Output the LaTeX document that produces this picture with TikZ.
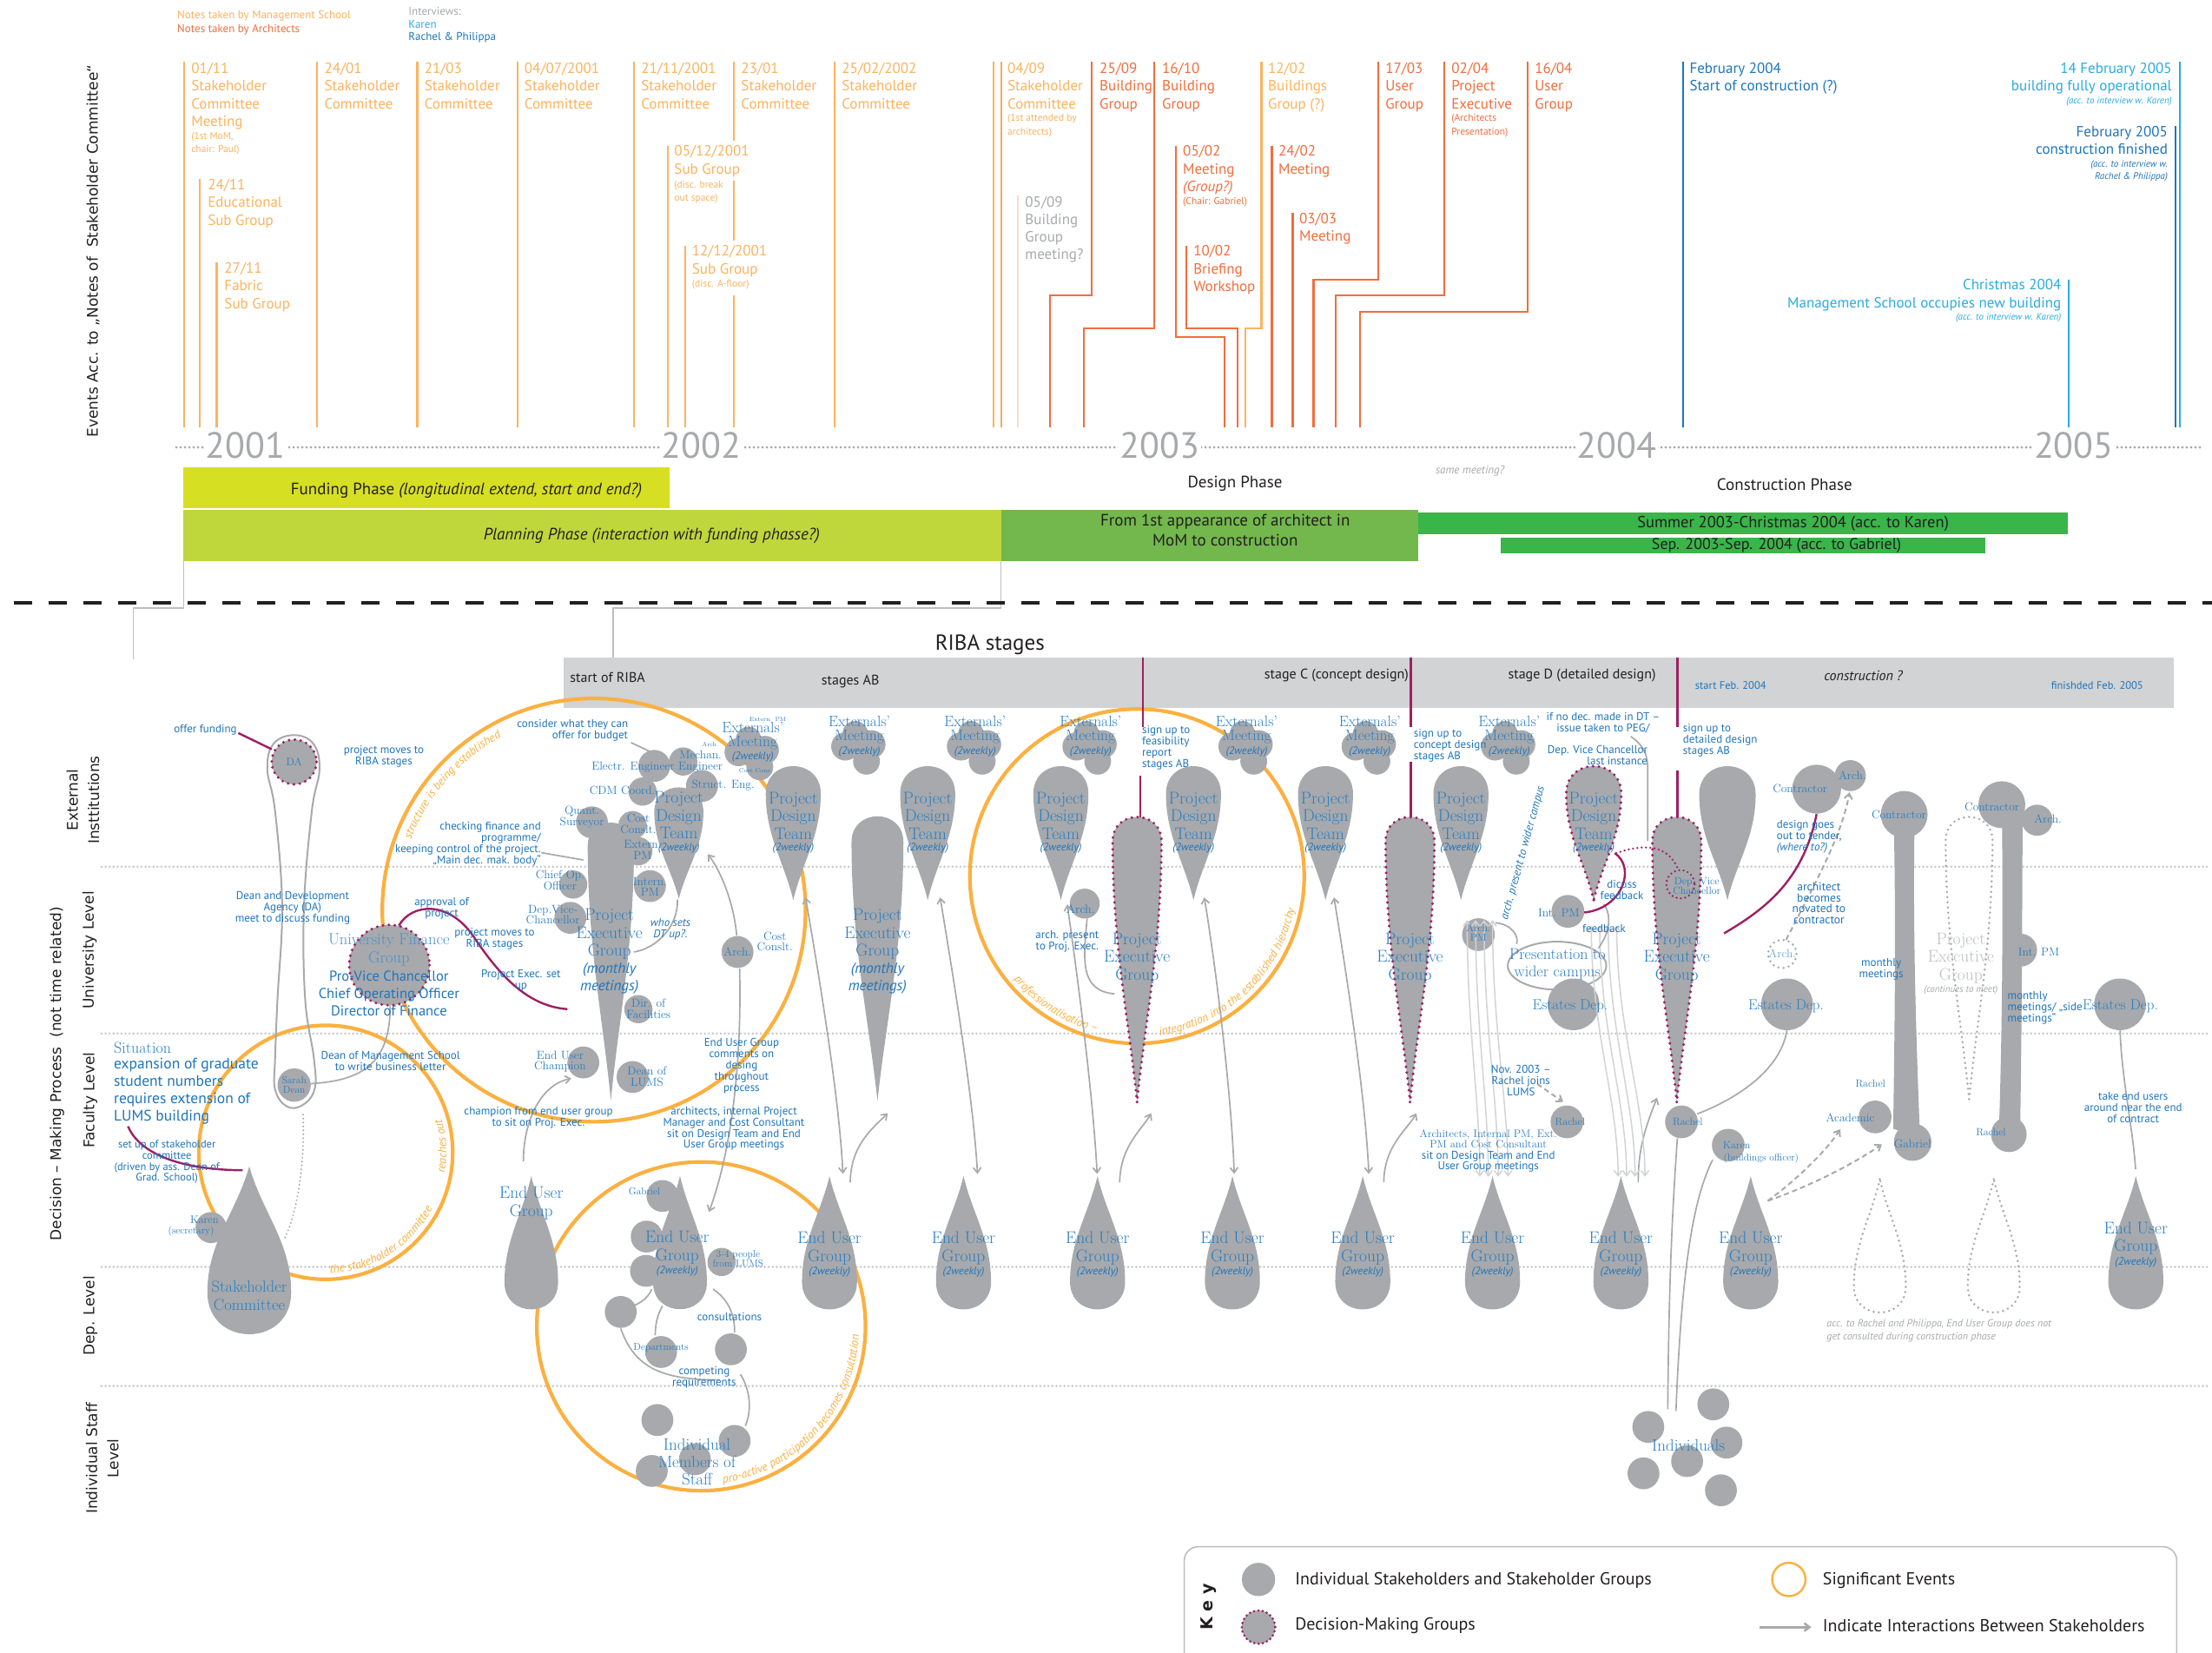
\documentclass[tikz,border=0pt]{standalone}
\usepackage{fontspec}
\usetikzlibrary{arrows.meta,decorations.text}
\newfontfamily\cond{PT Sans}
\newfontfamily\wide{DejaVu Sans}
\newcommand\fsz[2]{\fontsize{#1}{#2}\selectfont}
\newcommand\arcfont{\cond\itshape\fsz{13.5}{13.5}}

\definecolor{blobgray}{HTML}{A7A9AC}
\definecolor{lblue}{HTML}{2A7EC3}
\definecolor{ablue}{HTML}{1F75BC}
\definecolor{dblue}{HTML}{1C75BC}
\definecolor{skyblue}{HTML}{29ABE2}
\definecolor{msorange}{HTML}{FBB35E}
\definecolor{arorange}{HTML}{F26D3D}
\definecolor{evorange}{HTML}{FBB040}
\definecolor{dmred}{HTML}{9E1F63}
\definecolor{ribagray}{HTML}{D1D3D4}
\definecolor{yeargray}{HTML}{A7A9AC}
\definecolor{dotgray}{HTML}{C7C8CA}
\definecolor{fundyellow}{HTML}{D7DF23}
\definecolor{planlime}{HTML}{BFD73B}
\definecolor{desgreen}{HTML}{72B84C}
\definecolor{congreen}{HTML}{39B54A}
\definecolor{pinkline}{HTML}{FBD9CC}
\definecolor{textgray}{HTML}{A7A9AC}
\definecolor{darktext}{HTML}{231F20}
\definecolor{lightline}{HTML}{D1D3D4}
\definecolor{linegray}{HTML}{A7A9AC}
\definecolor{ghosttext}{HTML}{BCBEC0}

\tikzset{
  blob/.style={fill=blobgray},
  dm/.style={fill=blobgray, draw=dmred, line width=3.4pt, line cap=round, dash pattern=on 0pt off 6.8pt},
  dmo/.style={draw=dmred, line width=2.6pt, line cap=round, dash pattern=on 0pt off 5pt},
  ghost/.style={draw=blobgray, line width=2.8pt, line cap=round, dash pattern=on 0pt off 6pt},
  evl/.style={line width=2.2pt},
  evt/.style={font=\cond\fsz{17}{20.3}, align=left, inner sep=0pt, anchor=north west},
  evs/.style={font=\cond\fsz{11.5}{15.5}, align=left, inner sep=0pt, anchor=north west},
  yearlbl/.style={font=\cond\fsz{42}{42}, text=yeargray, fill=white, inner xsep=2pt, inner ysep=0pt},
  lab/.style={font=\rmfamily\fsz{19.5}{20.5}, text=lblue, align=center, inner sep=0pt},
  labs/.style={font=\rmfamily\fsz{13.5}{12.7}, text=lblue, align=center, inner sep=0pt},
  ann/.style={font=\cond\fsz{13}{13}, text=ablue, align=center, inner sep=0pt},
  wk/.style={font=\cond\itshape\fsz{12.5}{12.5}, text=ablue, inner sep=0pt},
  sidelbl/.style={font=\wide\fsz{17}{24.5}, text=darktext, rotate=90, align=center, inner sep=0pt},
  phase/.style={font=\cond\fsz{19}{23}, text=darktext, align=center, inner sep=0pt},
  stagelbl/.style={font=\cond\fsz{16}{16}, text=darktext, inner sep=0pt},
  conn/.style={draw=linegray, line width=1.7pt},
  lconn/.style={draw=lightline, line width=1.5pt},
  arrowend/.style={-{Straight Barb[length=6pt,width=9pt]}},
  arrowboth/.style={{Straight Barb[length=6pt,width=9pt]}-{Straight Barb[length=6pt,width=9pt]}},
  dconn/.style={draw=linegray, line width=2pt, dash pattern=on 6pt off 4pt},
  mag/.style={draw=dmred, line width=2.4pt},
  ring/.style={draw=evorange, line width=4.2pt},
  lvl/.style={draw=dotgray, line width=2.8pt, line cap=round, dash pattern=on 0pt off 4.6pt},
  keytext/.style={font=\cond\fsz{20}{20}, text=darktext, anchor=west, inner sep=0pt},
}

% drop with round top and pointed bottom: style, x, top, tip, half width
\newcommand\dropdn[5]{%
  \path[#1] (#2,#4)
    .. controls ({#2-0.32*#5},{#4-0.28*(#4-#3)}) and ({#2-#5},{#3+#5+0.4*(#4-#3-#5)}) .. ({#2-#5},{#3+#5})
    .. controls ({#2-#5},{#3-#5/3}) and ({#2+#5},{#3-#5/3}) .. ({#2+#5},{#3+#5})
    .. controls ({#2+#5},{#3+#5+0.4*(#4-#3-#5)}) and ({#2+0.32*#5},{#4-0.28*(#4-#3)}) .. cycle;}
% drop with pointed top and round bottom: style, x, tip, bottom, half width
\newcommand\dropup[5]{%
  \path[#1] (#2,#3)
    .. controls ({#2-0.32*#5},{#3+0.28*(#4-#3)}) and ({#2-#5},{#4-#5-0.4*(#4-#3-#5)}) .. ({#2-#5},{#4-#5})
    .. controls ({#2-#5},{#4+#5/3}) and ({#2+#5},{#4+#5/3}) .. ({#2+#5},{#4-#5})
    .. controls ({#2+#5},{#4-#5-0.4*(#4-#3-#5)}) and ({#2+0.32*#5},{#3+0.28*(#4-#3)}) .. cycle;}
% externals' meeting cluster: shift, name, x
\newcommand\extm[3][0]{%
  \fill[blobgray] ({#3-10},{529+(#1)}) circle (10) ({#3+8.5},{527.5+(#1)}) circle (10)
    ({#3+5},{539.5+(#1)}) circle (9.5) ({#3-3},{520+(#1)}) circle (9);
  \node[lab,font=\rmfamily\fsz{17.5}{15.6}] (#2) at (#3,{517.4+(#1)}) {Externals'\\Meeting};
  \node[wk] (#2w) at (#3,{532.6+(#1)}) {(2weekly)};}
% project design team: style, name, x
\newcommand\pdt[3][blob]{%
  \dropdn{#1}{#3}{543}{638}{19.5}
  \node[lab] (#2) at (#3,578.2) {Project\\Design\\Team};
  \node[wk] (#2w) at (#3,600.8) {(2weekly)};}
% end user group: text shift, name, x
\newcommand\eug[3][0]{%
  \dropup{blob}{#3}{833.5}{928}{19.5}
  \node[lab] (#2) at (#3,{884.6+(#1)}) {End User\\Group};
  \node[wk] (#2w) at (#3,{901.8+(#1)}) {(2weekly)};}
% decision-making project executive group: name, x
\newcommand\pegd[2]{%
  \dropdn{dm}{#2}{579}{781}{17.3}
  \node[lab] (#1) at (#2,678.9) {Project\\Executive\\Group};}

\begin{document}
\begin{tikzpicture}[x=1.6244pt,y=-1.6244pt]
\useasboundingbox (0,0) rectangle (1568,1171);
\fill[white] (0,0) rectangle (1568,1171);

% ---------- legend of the note sources
\node[font=\cond\fsz{13}{13}, text=msorange, anchor=west, inner sep=0pt] (lgms) at (125.6,11.3) {Notes taken by Management School};
\node[font=\cond\fsz{13}{13}, text=arorange, anchor=west, inner sep=0pt] (lgar) at (125.6,20.9) {Notes taken by Architects};
\node[font=\cond\fsz{13}{13}, text=textgray, anchor=west, inner sep=0pt] (lgiv) at (289.5,8.2) {Interviews:};
\node[font=\cond\fsz{13}{13}, text=skyblue, anchor=west, inner sep=0pt] (lgka) at (289.5,17.4) {Karen};
\node[font=\cond\fsz{13}{13}, text=dblue, anchor=west, inner sep=0pt] (lgrp) at (289.5,26.3) {Rachel \& Philippa};

% ---------- events from the minutes
\draw[evl,msorange] (130.5,44) -- (130.5,302.7);
\node[evt,text=msorange] (e01) at (135.5,44.5) {01/11\\Stakeholder\\Committee\\Meeting};
\node[evs,text=msorange] (e01s) at (135.5,93.5) {(1st MoM,\\chair: Paul)};
\draw[evl,msorange] (141.4,126.8) -- (141.4,302.7);
\node[evt,text=msorange] (e02) at (147.2,127) {24/11\\Educational\\Sub Group};
\draw[evl,msorange] (153.6,185.7) -- (153.6,302.7);
\node[evt,text=msorange] (e03) at (159,186) {27/11\\Fabric\\Sub Group};
\draw[evl,msorange] (224.5,44) -- (224.5,302.7);
\node[evt,text=msorange] (e04) at (229.9,44.5) {24/01\\Stakeholder\\Committee};
\draw[evl,msorange] (295.8,44) -- (295.8,302.7);
\node[evt,text=msorange] (e05) at (300.8,44.5) {21/03\\Stakeholder\\Committee};
\draw[evl,msorange] (366.7,44) -- (366.7,302.7);
\node[evt,text=msorange] (e06) at (371.7,44.5) {04/07/2001\\Stakeholder\\Committee};
\draw[evl,msorange] (449.4,44) -- (449.4,302.7);
\node[evt,text=msorange] (e07) at (454.4,44.5) {21/11/2001\\Stakeholder\\Committee};
\draw[evl,msorange] (473.3,103.6) -- (473.3,302.7);
\node[evt,text=msorange] (e08) at (477.9,103.2) {05/12/2001\\Sub Group};
\node[evs,text=msorange] (e08s) at (477.9,127.9) {(disc. break\\out space)};
\draw[evl,msorange] (485.5,174.4) -- (485.5,302.7);
\node[evt,text=msorange] (e09) at (490.5,174) {12/12/2001\\Sub Group};
\node[evs,text=msorange] (e09s) at (490.5,198.3) {(disc. A-floor)};
\draw[evl,msorange] (520.3,44) -- (520.3,99.5) (520.3,128.3) -- (520.3,170.3) (520.3,209.3) -- (520.3,302.7);
\node[evt,text=msorange] (e10) at (525.3,44.5) {23/01\\Stakeholder\\Committee};
\draw[evl,msorange] (591.7,44) -- (591.7,302.7);
\node[evt,text=msorange] (e11) at (596.6,44.5) {25/02/2002\\Stakeholder\\Committee};
\draw[evl,msorange] (704.4,44) -- (704.4,302.7);
\draw[evl,msorange!85!arorange] (709.6,44) -- (709.6,302.7);
\node[evt,text=msorange] (e12) at (714.1,44.5) {04/09\\Stakeholder\\Committee};
\node[evs,text=msorange] (e12s) at (714.1,81) {(1st attended by\\architects)};
\draw[evl,pinkline] (721.5,138.5) -- (721.5,302.7);
\node[evt,text=textgray] (e13) at (726.6,139) {05/09\\Building\\Group\\meeting?};
\draw[evl,arorange] (773.8,44) -- (773.8,209.3) -- (744.2,209.3) -- (744.2,302.7);
\node[evt,text=arorange] (e14) at (779.4,44.5) {25/09\\Building\\Group};
\draw[evl,arorange] (818.1,44) -- (818.1,232.9) -- (768.1,232.9) -- (768.1,302.7);
\node[evt,text=arorange] (e15) at (823.7,44.5) {16/10\\Building\\Group};
\draw[evl,arorange] (833.4,103.6) -- (833.4,239.1) -- (868,239.1) -- (868,302.7);
\node[evt,text=arorange] (e16) at (838.5,103.2) {05/02\\Meeting\\\textit{(Group?)}};
\node[evs,text=arorange] (e16s) at (838.5,139.8) {(Chair: Gabriel)};
\draw[evl,arorange] (840.8,174.4) -- (840.8,232.9) -- (877.1,232.9) -- (877.1,302.7);
\node[evt,text=arorange] (e17) at (845.9,174) {10/02\\Briefing\\Workshop};
\draw[evl,msorange] (894.2,44) -- (894.2,232.9) -- (882.8,232.9) -- (882.8,302.7);
\node[evt,text=msorange] (e18) at (898.8,44.5) {12/02\\Buildings\\Group (?)};
\draw[evl,arorange] (901.6,103.6) -- (901.6,302.7);
\node[evt,text=arorange] (e19) at (906.1,103.2) {24/02\\Meeting};
\draw[evl,arorange] (916.3,150.8) -- (916.3,302.7);
\node[evt,text=arorange] (e20) at (920.9,150.8) {03/03\\Meeting};
\draw[evl,arorange] (977.1,44) -- (977.1,198) -- (931.1,198) -- (931.1,302.7);
\node[evt,text=arorange] (e21) at (982,44.5) {17/03\\User\\Group};
\draw[evl,arorange] (1023.8,44) -- (1023.8,209.3) -- (947,209.3) -- (947,302.7);
\node[evt,text=arorange] (e22) at (1028.8,44.5) {02/04\\Project\\Executive};
\node[evs,text=arorange] (e22s) at (1028.8,81) {(Architects\\Presentation)};
\draw[evl,arorange] (1082.8,44) -- (1082.8,221.2) -- (964,221.2) -- (964,302.7);
\node[evt,text=arorange] (e23) at (1087.9,44.5) {16/04\\User\\Group};
\draw[evl,dblue] (1193,44) -- (1193,302.7);
\node[evt,text=dblue] (e24) at (1197.6,44.5) {February 2004\\Start of construction (?)};
\draw[evl,skyblue] (1545.2,44) -- (1545.2,302.7);
\node[evt,text=skyblue,anchor=north east,align=right] (e25) at (1539.6,44.5) {14 February 2005\\building fully operational};
\node[evs,text=skyblue,anchor=north east,align=right,font=\cond\itshape\fsz{11}{15}] (e25s) at (1539.6,68.5) {(acc. to interview w. Karen)};
\draw[evl,dblue] (1541.9,89.3) -- (1541.9,302.7);
\node[evt,text=dblue,anchor=north east,align=right] (e26) at (1536.7,89.3) {February 2005\\construction finished};
\node[evs,text=dblue,anchor=north east,align=right,font=\cond\itshape\fsz{11}{14}] (e26s) at (1536.7,113.7) {(acc. to interview w.\\Rachel \& Philippa)};
\draw[evl,skyblue] (1466.3,198) -- (1466.3,302.7);
\node[evt,text=skyblue,anchor=north east,align=right] (e27) at (1461.2,198) {Christmas 2004\\Management School occupies new building};
\node[evs,text=skyblue,anchor=north east,align=right,font=\cond\itshape\fsz{11}{15}] (e27s) at (1461.2,221.8) {(acc. to interview w. Karen)};

% ---------- time axis
\draw[draw=yeargray, line width=3.2pt, line cap=round, dash pattern=on 0pt off 5pt] (125,317) -- (1562,317);
\foreach \yr/\xx in {2001/174,2002/497,2003/822,2004/1146,2005/1470}
  \node[yearlbl] (yr\yr) at (\xx,315.5) {\yr};

% ---------- phases
\fill[fundyellow] (130.2,331.4) rectangle (474.7,360.1);
\node[phase] (funding) at (330.6,348) {Funding Phase \textit{(longitudinal extend, start and end?)}};
\fill[planlime] (130.2,361.6) rectangle (709.5,397.5);
\node[phase,font=\cond\itshape\fsz{19}{23}] (planning) at (462,380) {Planning Phase (interaction with funding phasse?)};
\fill[desgreen] (709.5,361.6) rectangle (1005.3,397.5);
\node[phase] (fromarch) at (868.5,375.5) {From 1st appearance of architect in\\MoM to construction};
\node[phase] (design) at (875.4,342.7) {Design Phase};
\node[font=\cond\itshape\fsz{13}{13}, text=textgray, inner sep=0pt] (samemeet) at (1042,334) {same meeting?};
\node[phase] (construction) at (1265,343.7) {Construction Phase};
\fill[congreen] (1005.3,363.2) rectangle (1466,378.6);
\node[phase,font=\cond\fsz{18.5}{18.5}] (karenph) at (1271,371.2) {Summer 2003-Christmas 2004 (acc. to Karen)};
\fill[congreen] (1063.8,381) rectangle (1407.5,392.4);
\node[phase,font=\cond\fsz{18}{18}] (gabrielph) at (1259.3,386.8) {Sep. 2003-Sep. 2004 (acc. to Gabriel)};

\draw[draw=ghosttext, line width=1.6pt] (130.2,397.5) -- (130.2,430.8) -- (94.4,430.8) -- (94.4,467);
\draw[draw=ghosttext, line width=1.6pt] (709.5,397.5) -- (709.5,430.8) -- (434.5,430.8) -- (434.5,466);
\draw[draw=darktext, line width=3.6pt, dash pattern=on 21pt off 19pt] (10,427.2) -- (1568,427.2);

% ---------- RIBA stages
\fill[ribagray] (399.3,466) rectangle (1541,502);
\node[font=\cond\fsz{25}{25}, text=darktext, inner sep=0pt] (ribattl) at (701.7,457.2) {RIBA stages};
\node[stagelbl, anchor=west] (rbstart) at (404,480.4) {start of RIBA};
\node[stagelbl] (rbab) at (602.8,483) {stages AB};
\node[stagelbl] (rbc) at (947.4,478.8) {stage C (concept design)};
\node[stagelbl] (rbd) at (1121.4,478.8) {stage D (detailed design)};
\node[stagelbl, font=\cond\itshape\fsz{16}{16}] (rbcon) at (1320.9,478.8) {construction ?};
\node[ann, font=\cond\fsz{12.5}{12.5}] (rbsf) at (1226.8,485.6) {start Feb. 2004};
\node[ann, font=\cond\fsz{12.5}{12.5}] (rbfin) at (1486.6,485.6) {finishded Feb. 2005};

% ---------- levels
\foreach \ly in {614.3,732.5,897.9,982.3} \draw[lvl] (72,\ly) -- (1566,\ly);
\node[sidelbl] (sideev) at (66,178) {Events Acc. to „Notes of\ \ Stakeholder Committee“};
\node[sidelbl] (sideext) at (58.8,567) {External\\Insttitutions};
\node[sidelbl] (sideuni) at (63.5,673.4) {University Level};
\node[sidelbl] (sidefac) at (64,779.8) {Faculty Level};
\node[sidelbl] (sidedec) at (40.5,761) {Decision – Making Process\ \ (not time related)};
\node[sidelbl] (sidedep) at (64,932.7) {Dep. Level};
\node[sidelbl] (sideind) at (72.5,1033.6) {Individual Staff\\Level};

% ---------- significant events
\draw[ring] (421,645) circle (150);
\draw[ring] (230.9,816.7) circle (90);
\draw[ring] (497,940) circle (116.5);
\draw[ring] (806,621) circle (118.5);
\path[decorate, decoration={text along path, text={|\arcfont|structure is being established}, text color=evorange, text align=left}] (421,645) ++(201:139) arc (201:252:139);
\path[decorate, decoration={text along path, text={|\arcfont|the stakeholder committee}, text color=evorange, text align=left}] (230.9,816.7) ++(88:85.5) arc (88:14:85.5);
\path[decorate, decoration={text along path, text={|\arcfont|reaches out}, text color=evorange, text align=left}] (230.9,816.7) ++(10:85.5) arc (10:-22:85.5);
\path[decorate, decoration={text along path, text={|\arcfont|pro-active participation becomes consultation}, text color=evorange, text align=left}] (497,940) ++(82:112) arc (82:-15:112);
\path[decorate, decoration={text along path, text={|\arcfont|professionalisation –}, text color=evorange, text align=left}] (806,621) ++(140:114) arc (140:96:114);
\path[decorate, decoration={text along path, text={|\arcfont|integration into the established hierarchy}, text color=evorange, text align=left}] (806,621) ++(82:114) arc (82:-6:114);

% ---------- magenta sign-up lines
\draw[mag] (810.2,466) -- (810.2,515) (808.3,550) -- (808.3,580);
\draw[mag] (1000,466) -- (1000,515) (1000,540) -- (1000,580);
\draw[mag] (1189,466) -- (1189,515) (1189,546) -- (1189,580);

% ---------- funding loop DA / Sarah Dean
\draw[conn, line width=2pt] plot[smooth cycle, tension=0.65] coordinates {(208.5,521) (222,527) (226.5,545) (221,575) (215.5,642) (216.3,708) (222.5,750) (223,772) (214,783.5) (203,784) (195,772) (195,750) (196.7,708) (200,642) (195,575) (189.5,545) (194,527)};
\path[dm] (208.5,540) circle (15.9);
\fill[blobgray] (208.5,769) circle (11.8);
\path[dm] (276,684) circle (28.5);

% ---------- stakeholder committee and early groups
\dropup{blob}{176.7}{826.6}{945.6}{29.7}
\fill[blobgray] (149.6,870) circle (11);
\dropup{blob}{376.6}{833.5}{928}{19}

% ---------- first project executive cluster
\dropdn{blob}{433}{583}{780}{16.4}
\fill[blobgray] (419.6,582.8) circle (11.3) (448.4,584.8) circle (10) (452.5,603.3) circle (10)
  (460.7,628) circle (11.3) (406.3,626.9) circle (10) (404.3,650.5) circle (11.3)
  (452.5,715.2) circle (10) (448.4,763.3) circle (11.3) (413.5,753) circle (11.3)
  (463.8,542.8) circle (11.3) (484.3,539.7) circle (10) (497.6,557) circle (11.3) (455.5,561) circle (10);
\dropdn{blob}{481.2}{558}{637}{17.4}
\fill[blobgray] (522.8,674.7) circle (11.3);

% ---------- end user group with departments and staff
\dropup{blob}{482}{833.3}{927.9}{19.1}
\fill[blobgray] (469.6,847.6) circle (11.3) (458.4,876.4) circle (11.3) (457.9,900.7) circle (11.3)
  (511.5,894.4) circle (10) (440,929.8) circle (11.3) (468.6,958.2) circle (11.3) (518.1,956.3) circle (11.3)
  (466,1006.4) circle (11.3) (520.7,1021.2) circle (11.3) (492.6,1034.2) circle (11.3) (462,1042.5) circle (11.3);

% ---------- externals' meetings
\extm[4]{ext1}{533.6}
\extm{ext2}{609.2}
\extm{ext3}{691.2}
\extm{ext4}{773.1}
\extm{ext5}{883.7}
\extm{ext6}{971}
\extm{ext7}{1069.8}
\node[labs, font=\rmfamily\fsz{7}{7}] (ext1pm) at (544.2,509.8) {Extern. PM};
\node[labs, font=\rmfamily\fsz{7}{7}] (ext1ar) at (503.5,527.8) {Arch.};
\node[labs, font=\rmfamily\fsz{7}{7}] (ext1cc) at (535.6,546.2) {Cost Cons.};

% ---------- design teams, executive groups, end user groups
\pdt{pdt1}{562.3}
\pdt{pdt2}{657.6}
\pdt{pdt3}{752}
\pdt{pdt4}{846}
\pdt{pdt5}{939.6}
\pdt{pdt6}{1035.6}
\pdt[dm]{pdt7}{1129.7}
\dropdn{blob}{1224.5}{543}{638}{20}
\dropdn{blob}{622}{578.5}{780.5}{18.4}
\node[lab] (peg1) at (622,662.2) {Project\\Executive\\Group};
\node[wk, font=\cond\itshape\fsz{17}{20}, align=center] (peg1m) at (622,693.4) {(monthly\\meetings)};
\fill[blobgray] (768.9,640.4) circle (10.6);
\pegd{peg2}{806}
\pegd{peg3}{999.5}
\pegd{peg4}{1188.6}
\eug{eug1}{588}
\eug{eug2}{683}
\eug{eug3}{778}
\eug{eug4}{873.6}
\eug{eug5}{966}
\eug{eug6}{1058}
\eug{eug7}{1149}
\eug{eug8}{1241}
\eug[-7]{eug9}{1514}

% ---------- design stage actors
\fill[blobgray] (1048,662.4) circle (11.6) (1111.4,645.9) circle (11.6)
  (1115.4,711.8) circle (18.3) (1266.7,711.8) circle (18.3) (1502.8,711.8) circle (18.3)
  (1110.7,795.1) circle (11.6) (1191.9,795.1) circle (11.6) (1225.1,811.6) circle (11.6)
  (1287.7,559.3) circle (17.3) (1311.6,549.7) circle (11);
\draw[conn, line width=2pt] (1103.7,684.4) ellipse [x radius=34.9, y radius=17];
\draw[dmo] (1191.2,626.7) circle (10);

% ---------- construction stage actors
\fill[blobgray] (1349.8,577.2) circle (16.6);
\fill[blobgray] (1342.5,585) .. controls (1344,660) and (1343,730) .. (1342,800) -- (1361,806) .. controls (1358,730) and (1356,660) .. (1357.1,585) -- cycle;
\fill[blobgray] (1329.2,791.6) circle (11.6) (1355.8,809.4) circle (13.3);
\fill[blobgray] (1419,570.3) circle (16.6) (1444,581.3) circle (11);
\fill[blobgray] (1419.1,578) .. controls (1420,660) and (1419,740) .. (1417,800) -- (1432,800) .. controls (1433,740) and (1433.5,660) .. (1433.7,578) -- cycle;
\fill[blobgray] (1424,803.9) circle (12.6) (1432.4,673.4) circle (11.6);
\dropdn{ghost}{1395.8}{579}{779}{16.6}
\dropup{ghost}{1332.5}{835.7}{930.2}{18.4}
\dropup{ghost}{1413.3}{835.7}{930.2}{18.4}
\draw[ghost] (1263.4,676.1) circle (10);
\fill[blobgray] (1214.5,995.3) circle (11.3) (1168.4,1011.3) circle (11.3) (1223.8,1022.4) circle (11.3)
  (1195.9,1035.5) circle (11.3) (1165,1044.2) circle (11.3) (1219.9,1056.2) circle (11.3);

% ---------- interactions
\draw[mag] (168.9,519.5) -- (192.6,531);
\draw[mag] (282.7,656) .. controls (292,640) and (318,638) .. (335.6,663.6) .. controls (352,688) and (372,713) .. (402.2,715.2);
\draw[mag] (90.7,798.3) .. controls (98,815) and (122,829) .. (172,829.4);
\draw[conn] (220.3,768) .. controls (255,766) and (277,755) .. (276.5,712.5);
\draw[ghost, line width=2.2pt, dash pattern=on 0pt off 4.5pt] (214.9,790) .. controls (216,830) and (210,860) .. (202,877.3);
\draw[conn] (447.3,526.3) -- (461.7,533.1);
\draw[conn] (383.7,604.3) -- (413.5,609.5);
\draw[conn] (449.4,674.7) .. controls (466,672) and (481,656) .. (480.2,637.5);
\draw[conn,arrowend] (522.2,663) .. controls (520,638) and (510,616) .. (501.7,605.4);
\draw[conn,arrowend] (524.3,686.5) .. controls (526,760) and (517,820) .. (502.5,859);
\draw[conn,arrowend] (371,823) .. controls (371,792) and (385,768) .. (405,764.4);
\draw[conn] (505.4,913.6) .. controls (515,920) and (521,930) .. (520.7,944.5);
\draw[conn] (469.6,925.6) .. controls (466,932) and (464.5,938) .. (464.5,946.5);
\draw[conn] (462,913.7) .. controls (460,918) and (457,922) .. (450,925);
\draw[conn] (440,941.5) .. controls (450,970) and (470,978) .. (510.4,978);
\draw[conn] (524.8,974) .. controls (532,985) and (533,1000) .. (528.3,1010.6);

\draw[conn,arrowboth] (571,636) .. controls (582,700) and (595,780) .. (597.5,832);
\draw[conn,arrowend] (602.7,838) .. controls (603,812) and (618,800) .. (629.3,789);
\draw[conn,arrowboth] (666.4,636) .. controls (677,700) and (690,780) .. (692.9,832);
\draw[conn,arrowboth] (756.5,641) .. controls (765,700) and (775,780) .. (777.7,832);
\draw[conn,arrowend] (793.7,838) .. controls (794,812) and (810,800) .. (816,789);
\draw[conn,arrowboth] (853.7,636) .. controls (864,700) and (873,780) .. (874.9,832);
\draw[conn,arrowboth] (945.6,636) .. controls (956,700) and (968,780) .. (970.3,832);
\draw[conn,arrowend] (980.9,838) .. controls (981,812) and (998,800) .. (1004,789);
\draw[conn,arrowend] (1161.3,838) .. controls (1161,812) and (1168,795) .. (1174.6,778);
\foreach \a/\b in {1040/1049,1046/1055,1052/1062,1058/1069}
  \draw[lconn,arrowboth] (\a,652) .. controls (\a,730) and (\b,780) .. (\b,834);
\foreach \a/\b in {1128/1147,1134/1153,1140/1159,1146/1166}
  \draw[lconn,arrowboth] (\a,656) .. controls (\a,730) and (\b,780) .. (\b,834);
\draw[conn] (770.6,651) .. controls (768,680) and (765,702) .. (790,704.4);
\draw[conn] (1060,654) .. controls (1072,655) and (1077,664) .. (1075,669);
\draw[conn] (1133,672) .. controls (1142,660) and (1142,648) .. (1137,641);
\draw[conn] (1156,522) .. controls (1165,528) and (1168,535) .. (1168,545) -- (1168,596);
\draw[conn] (1266.7,730) .. controls (1262,760) and (1228,780) .. (1203,789.5);
\draw[conn] (1502.8,730) .. controls (1504,765) and (1512,800) .. (1513.8,828.6);
\draw[conn] (1182.2,998.8) .. controls (1183,900) and (1186,850) .. (1189,806.7);
\draw[conn] (1188,1000) .. controls (1192,900) and (1200,850) .. (1214,822);
\draw[dconn,arrowend] (1089.7,768.2) -- (1108,781);
\draw[dconn,arrowend] (1266.1,666) .. controls (1290,620) and (1306,590) .. (1311,561.5);
\draw[dconn,arrowend] (1253.1,851.1) .. controls (1275,835) and (1295,815) .. (1304.5,800.3);
\draw[dconn,arrowend] (1253.1,851.1) .. controls (1290,838) and (1318,822) .. (1334,811);
\draw[mag] (1123,646.7) .. controls (1150,644) and (1160,615) .. (1144.6,604.6);
\draw[dmo] (1145.7,604.6) .. controls (1165,598) and (1182,598) .. (1189.5,616);
\draw[mag] (1222.1,661.5) .. controls (1250,645) and (1278,625) .. (1287.7,577);

% ---------- labels: funding and university level
\node[labs, font=\rmfamily\fsz{12.5}{12}] (da) at (208.5,540) {DA};
\node[labs, font=\rmfamily\fsz{11.5}{10.5}] (sarah) at (208.5,769) {Sarah\\Dean};
\node[ann] (offer) at (145.6,517) {offer funding};
\node[ann] (moves1) at (272.1,535.8) {project moves to\\RIBA stages};
\node[ann] (deanda) at (207.4,643.5) {Dean and Development\\Agency (DA)\\meet to discuss funding};
\node[lab, font=\rmfamily\fsz{18.5}{21.4}, text=lblue!85!white] (ufg) at (275.7,673.1) {University Finance\\Group};
\node[ann, font=\cond\fsz{16.5}{20}] (ufgm) at (275.7,704.2) {Pro-Vice Chancellor\\Chief Operating Officer\\Director of Finance};
\node[ann] (approval) at (313.1,643.7) {approval of\\project};
\node[ann] (moves2) at (350.6,665.2) {project moves to\\RIBA stages};
\node[ann] (execset) at (369.3,695.1) {Project Exec. set\\up};
\node[ann] (deanms) at (276.8,751.9) {Dean of Management School\\to write business letter};
\node[ann, anchor=east, align=right] (budget) at (445.3,517.4) {consider what they can\\offer for budget};
\node[ann, anchor=east, align=right] (checking) at (383.5,598) {checking finance and\\programme/\\keeping control of the project.\\„Main dec. mak. body“};
\node[lab, font=\rmfamily\fsz{18}{17}, anchor=west] (situation) at (80.6,742.8) {Situation};
\node[ann, font=\cond\fsz{17.5}{20.3}, anchor=north west, align=left] (situtext) at (80.6,749.5) {expansion of graduate\\student numbers\\requires extension of\\LUMS building};
\node[ann, font=\cond\fsz{12.5}{12.6}] (setup) at (118.3,823.6) {set up of stakeholder\\committee\\(driven by ass. Dean of\\Grad. School)};
\node[lab, font=\rmfamily\fsz{18.5}{21}] (stc) at (176.7,918.5) {Stakeholder\\Committee};
\node[labs, font=\rmfamily\fsz{12.5}{13}] (karen1) at (144.9,864.3) {Karen};
\node[labs, font=\rmfamily\fsz{11.5}{11}] (karen1s) at (135.5,872.5) {(secretary)};
\node[lab] (eug0) at (376.6,852.7) {End User\\Group};
\node[ann] (champ) at (381.7,792.4) {champion from end user group\\to sit on Proj. Exec.};

% ---------- labels: first executive cluster
\node[labs] (electr) at (448.7,543.8) {Electr. Engineer};
\node[labs] (mechan) at (496.6,539.5) {Mechan.\\Engineer};
\node[labs] (cdm) at (441.2,560.2) {CDM Coord.};
\node[labs] (struct) at (512.6,556.7) {Struct. Eng.};
\node[labs] (quant) at (412.5,579.2) {Quant.\\Surveyor};
\node[labs] (costc) at (452.5,583.8) {Cost\\Conslt.};
\node[labs] (extpm) at (455.5,602.2) {Extern.\\PM};
\node[lab] (pdt0) at (481.2,578) {Project\\Design\\Team};
\node[wk] (pdt0w) at (481.2,600.8) {(2weekly)};
\node[labs] (chiefop) at (397,623.8) {Chief Op.\\Officer};
\node[labs] (intpm) at (460.7,628.4) {Intern.\\PM};
\node[labs] (depvc) at (391.9,648.2) {Dep.Vice-\\Chancellor};
\node[lab] (peg0) at (432,662.2) {Project\\Executive\\Group};
\node[wk, font=\cond\itshape\fsz{17}{20}, align=center] (peg0m) at (432,693.6) {(monthly\\meetings)};
\node[labs] (dirfac) at (459.7,714.9) {Dir. of\\Facilities};
\node[labs] (deanl) at (458.6,762.8) {Dean of\\LUMS};
\node[labs] (euchamp) at (397,752.4) {End User\\Champion};
\node[ann, font=\cond\itshape\fsz{13}{13}] (whosets) at (475.3,658.5) {who sets\\DT up?.};
\node[labs] (arch1) at (522.8,674.7) {Arch.};
\node[labs] (costc2) at (549.3,667.2) {Cost\\Conslt.};
\node[ann] (euc) at (525.7,755.2) {End User Group\\comments on\\desing\\throughout\\process};
\node[ann, font=\cond\fsz{13}{12.7}] (archint) at (520.2,800.1) {architects, internal Project\\Manager and Cost Consultant\\sit on Design Team and End\\User Group meetings};

% ---------- labels: departments and staff
\node[labs, font=\rmfamily\fsz{11.5}{11}] (gabriel1) at (456.8,844.4) {Gabriel};
\node[lab] (eugc) at (480.1,884.2) {End User\\Group};
\node[wk] (eugcw) at (480.1,900.8) {(2weekly)};
\node[labs, font=\rmfamily\fsz{11.5}{11.5}] (lums34) at (523.2,892) {3-4 people\\from LUMS};
\node[ann] (consult) at (517.1,933.3) {consultations};
\node[labs, font=\rmfamily\fsz{11.5}{11}] (depts) at (468.6,955) {Departments};
\node[ann] (competing) at (499.2,976.1) {competing\\requirements};
\node[lab, font=\rmfamily\fsz{19}{20.2}] (indmem) at (494.1,1036) {Individual\\Members of\\Staff};

% ---------- labels: design stages
\node[ann, anchor=north west, align=left] (sufeas) at (809.5,514.3) {sign up to\\feasibility\\report\\stages AB};
\node[ann, anchor=north west, align=left] (suconc) at (1002.1,516.5) {sign up to\\concept design\\stages AB};
\node[ann, anchor=north west, align=left] (sudet) at (1192.9,513) {sign up to\\detailed design\\stages AB};
\node[labs, font=\rmfamily\fsz{14}{13}] (arch2) at (766,644) {Arch.};
\node[ann] (archpres) at (756.5,667) {arch. present\\to Proj. Exec.};
\node[ann] (nodec) at (1136.4,512.4) {if no dec. made in DT –\\issue taken to PEG/};
\node[ann, anchor=east, align=right] (lastinst) at (1168,535) {Dep. Vice Chancellor\\last instance};
\node[labs, font=\rmfamily\fsz{12}{11.5}] (archpm) at (1048,661) {Arch.\\PM};
\node[labs] (intpm2) at (1105,647) {Int. PM};
\node[ann, font=\cond\itshape\fsz{13}{13}, rotate=74.5] (widercamp) at (1079.7,604.5) {arch. present to wider campus};
\node[lab, font=\rmfamily\fsz{18}{20}] (present) at (1104,683.7) {Presentation to\\wider campus};
\node[ann] (discuss) at (1149.7,630.5) {dicuss\\feedback};
\node[ann] (feedback) at (1137,658.3) {feedback};
\node[labs, font=\rmfamily\fsz{12}{11.5}, text=lblue!80!ablue] (dvc) at (1202.8,628) {Dep. Vice\\Chancellor};
\node[lab, font=\rmfamily\fsz{17}{16}] (estates1) at (1113,712.8) {Estates Dep.};
\node[lab, font=\rmfamily\fsz{17}{16}] (estates2) at (1266,712.8) {Estates Dep.};
\node[lab, font=\rmfamily\fsz{17}{16}] (estates3) at (1503,712.8) {Estates Dep.};
\node[ann] (nov03) at (1078.1,766) {Nov. 2003 –\\Rachel joins\\LUMS};
\node[labs, font=\rmfamily\fsz{12}{11}] (rachel1) at (1113,795.1) {Rachel};
\node[labs, font=\rmfamily\fsz{12}{11}] (rachel2) at (1196.4,795.1) {Rachel};
\node[labs, font=\rmfamily\fsz{12}{11}] (karen2) at (1231,811.6) {Karen};
\node[labs, font=\rmfamily\fsz{11.5}{11}] (karen2s) at (1248.4,821.2) {(buildings officer)};
\node[labs, font=\rmfamily\fsz{12.5}{12.5}] (archint2) at (1055,807.2) {Architects, Internal PM, Ext.\\PM and Cost Consultant};
\node[ann, font=\cond\fsz{13}{12.7}] (archint3) at (1055,823.3) {sit on Design Team and End\\User Group meetings};
\node[lab, font=\rmfamily\fsz{19}{18}] (indiv) at (1196.9,1024.3) {Individuals};

% ---------- labels: construction stage
\node[labs] (contr1) at (1276,558.8) {Contractor};
\node[labs] (arch3) at (1313,549.7) {Arch.};
\node[ann, anchor=north west, align=left] (tender) at (1259.4,581.5) {design goes\\out to tender,\\\textit{(where to?)}};
\node[ann, font=\cond\fsz{13.5}{12.7}] (novated) at (1289.4,640.2) {architect\\becomes\\novated to\\contractor};
\node[labs, text=lblue!70!white] (arch4) at (1263.4,676.1) {Arch.};
\node[labs] (contr2) at (1346,577.6) {Contractor};
\node[ann] (monthly1) at (1333.5,686.9) {monthly\\meetings};
\node[labs, font=\rmfamily\fsz{12}{11}] (rachel3) at (1325.9,768.2) {Rachel};
\node[labs] (academic) at (1311.6,792.1) {Academic};
\node[labs] (gabriel2) at (1355.8,810.4) {Gabriel};
\node[lab, text=ghosttext] (pegcont) at (1390,678.9) {Project\\Executive\\Group};
\node[font=\cond\itshape\fsz{11}{11}, text=textgray, inner sep=0pt] (pegconts) at (1390,701.7) {(continues to meet)};
\node[labs] (contr3) at (1412,571.6) {Contractor};
\node[labs] (arch5) at (1451.7,580.5) {Arch.};
\node[labs] (intpm3) at (1445.2,674.9) {Int. PM};
\node[labs, font=\rmfamily\fsz{12}{11}] (rachel4) at (1411.3,802.6) {Rachel};
\node[ann, anchor=north west, align=left] (monthly2) at (1423,702.4) {monthly\\meetings/ „side\\meetings“};
\node[ann] (takeend) at (1512.1,784.9) {take end users\\around near the end\\of contract};
\node[font=\cond\itshape\fsz{12}{15.4}, text=textgray, inner sep=0pt, anchor=north west, align=left] (noconsult) at (1294.8,935) {acc. to Rachel and Philippa, End User Group does not\\get consulted during construction phase};

% ---------- key
\draw[draw=ghosttext, line width=1.6pt, rounded corners=16pt] (839.5,1190) -- (839.5,1096.2) -- (1543,1096.2) -- (1543,1190);
\node[font=\wide\bfseries\fsz{19}{19}, text=darktext, rotate=90, inner sep=0pt] (keyttl) at (857,1138.9) {K e y};
\fill[blobgray] (892.1,1119.4) circle (11.8);
\path[dm, line width=3pt, dash pattern=on 0pt off 5pt] (892.1,1153.2) circle (11.8);
\node[keytext] (key1) at (918,1120) {Individual Stakeholders and Stakeholder Groups};
\node[keytext] (key2) at (918,1152.2) {Decision-Making Groups};
\draw[draw=evorange, line width=2.4pt] (1268,1119.4) circle (11.8);
\node[keytext] (key3) at (1292,1120) {Significant Events};
\coordinate (keyarrA) at (1247,1153.2);
\coordinate (keyarrB) at (1284,1153.2);
\draw[conn, line width=2.6pt, arrowend] (keyarrA) -- (keyarrB);
\node[keytext] (key4) at (1292,1152.2) {Indicate Interactions Between Stakeholders};
\end{tikzpicture}
\end{document}
